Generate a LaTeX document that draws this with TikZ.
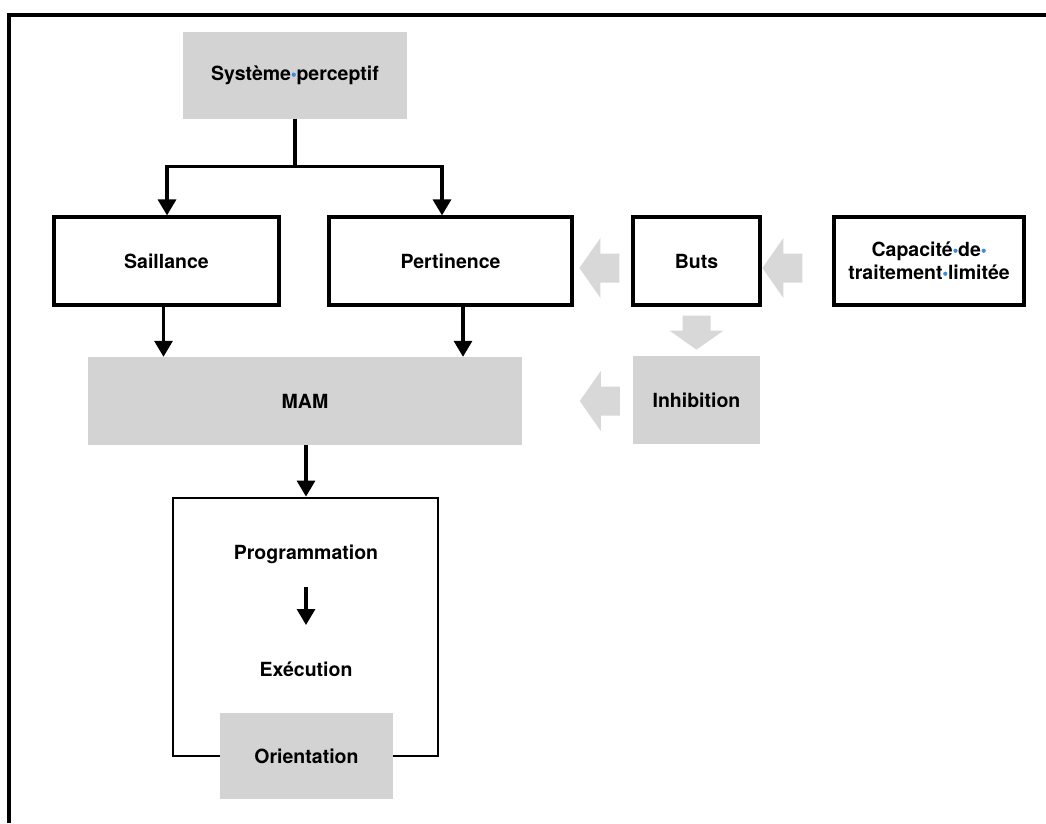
\documentclass[tikz,border=0pt]{standalone}
\usepackage{fontspec}
\setmainfont{TeX Gyre Heros}
\usetikzlibrary{arrows.meta,calc}
\definecolor{boxgray}{HTML}{D3D3D3}
\definecolor{arrgray}{HTML}{D8D8D8}
\definecolor{dotblue}{HTML}{3C8EDB}
\newcommand\bdot{\makebox[0.28em]{\raisebox{0.2em}{\tikz\fill[dotblue] (0,0) circle (2.1pt);}}}
\begin{document}
\begin{tikzpicture}[x=1pt,y=-1pt,
  lbl/.style={font=\fontsize{19.5}{23}\selectfont\bfseries, align=center, text=black},
  wbox/.style={lbl, draw=black, line width=3.2pt, fill=white, inner sep=0pt},
  gbox/.style={lbl, fill=boxgray, inner sep=0pt},
  conn/.style={line width=3.2pt, -{Triangle[length=16pt,width=18pt]}},
  plain/.style={lbl, inner sep=0pt},
  garrowleft/.pic={\fill[arrgray] (0,0) -- (21,-30) -- (21,-14.5) -- (40,-14.5) -- (40,14.5) -- (21,14.5) -- (21,30) -- cycle;},
  garrowdown/.pic={\fill[arrgray] (0,0) -- (19,-27) -- (19,-14) -- (34,-14) -- (34,14) -- (19,14) -- (19,27) -- cycle;}
]
\useasboundingbox[fill=white] (0,0) rectangle (1046,823);
% outer frame (cut by page edges)
\draw[line width=3.5pt] (9,823) |- (1046,15);

% nodes
\node[gbox, minimum width=224pt, minimum height=87pt] (sys) at (295,75.5) {Système\bdot perceptif};
\node[wbox, minimum width=225pt, minimum height=88pt] (sail) at (166.5,261) {Saillance};
\node[wbox, minimum width=243pt, minimum height=88pt] (pert) at (450.5,261) {Pertinence};
\node[wbox, minimum width=127pt, minimum height=88pt] (buts) at (696.5,261) {Buts};
\node[wbox, minimum width=190pt, minimum height=88pt] (cap) at (929,261) {Capacité\bdot de\bdot\\traitement\bdot limitée};
\node[gbox, minimum width=434pt, minimum height=88pt] (mam) at (305,401) {MAM};
\node[gbox, minimum width=127pt, minimum height=88pt] (inh) at (696.5,400) {Inhibition};
\node[draw=black, line width=2.8pt, minimum width=265pt, minimum height=258pt, inner sep=0pt] (cont) at (305.5,627) {};
\node[plain] (prog) at (306,554) {Programmation};
\node[plain] (exec) at (306,669) {Exécution};
\node[gbox, minimum width=173pt, minimum height=86pt] (ori) at (306.5,756) {Orientation};

% black connectors
\draw[line width=3.2pt] (sys.south) -- ++(0,47) coordinate (j);
\draw[conn] (j) -| ([xshift=0.5pt]sail.north);
\draw[conn] (j) -| ([xshift=-8.5pt]pert.north);
\draw[conn] ([xshift=-3pt]sail.south) -- ([xshift=-3pt]sail.south |- mam.north);
\draw[conn] ([xshift=12.5pt]pert.south) -- ([xshift=12.5pt]pert.south |- mam.north);
\draw[conn] ([xshift=1pt]mam.south) -- ([xshift=1pt]mam.south |- cont.north);
\draw[conn] ([yshift=-33pt]prog.center) -- ([yshift=44pt]exec.center);

% grey block arrows
\pic at ($(buts.west)+(-52,7)$) {garrowleft};
\pic at ($(cap.west)+(-70,7)$) {garrowleft};
\pic at ($(inh.west)+(-53,1)$) {garrowleft};
\pic[rotate=90] at ($(buts.south)+(0,43)$) {garrowdown};
\end{tikzpicture}
\end{document}
